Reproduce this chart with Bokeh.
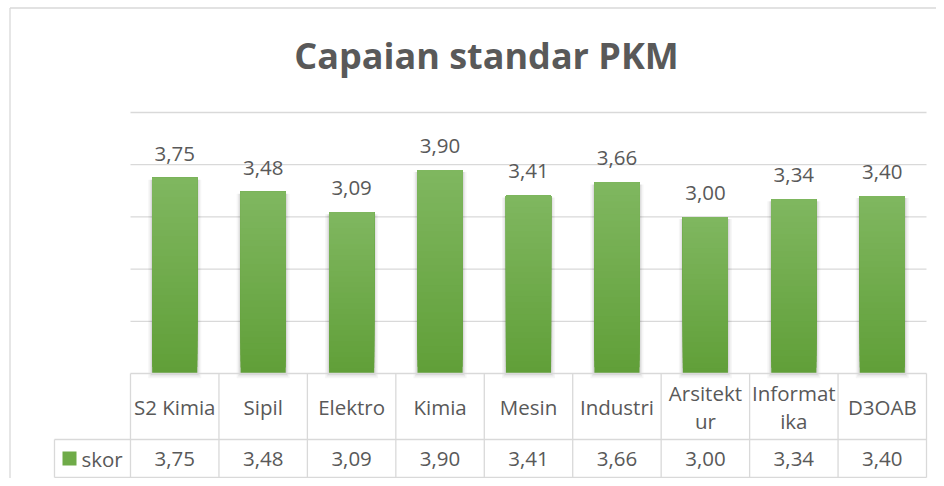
import numpy as np
from bokeh.plotting import figure
from bokeh.models import Range1d
from bokeh.core.properties import value
from bokeh.embed import file_html
from bokeh.resources import INLINE

# ---- data ----
title_text = "Capaian standar PKM"
categories = ["S2 Kimia", "Sipil", "Elektro", "Kimia", "Mesin", "Industri",
              "Arsitekt\nur", "Informat\nika", "D3OAB"]
skor = [3.75, 3.48, 3.09, 3.90, 3.41, 3.66, 3.00, 3.34, 3.40]
series_name = "skor"
grid_values = [1, 2, 3, 4, 5]

labels = [f"{v:.2f}".replace(".", ",") for v in skor]

# ---- layout (canvas pixels) ----
W, H = 936, 478
PL, PR = 130, 926          # plot area left/right
P_TOP, P_BASE = 112, 373   # pixel of value 5 and value 0
n = len(categories)
ymax = 5
ppx = (PR - PL) / n
ppy = (P_BASE - P_TOP) / ymax

def xu(px):
    return (px - PL) / ppx

def yu(py):
    return (P_BASE - py) / ppy

x_range = Range1d(xu(0), xu(W))
y_range = Range1d(yu(H), yu(0))

p = figure(width=W, height=H, x_range=x_range, y_range=y_range,
           output_backend="svg", toolbar_location=None,
           x_axis_location=None, y_axis_location=None,
           min_border=0, min_border_left=0, min_border_right=0,
           min_border_top=0, min_border_bottom=0)
p.grid.visible = False
p.background_fill_color = "white"
p.border_fill_color = "white"
p.outline_line_color = None

GRID = "#d9d9d9"
TXT = "#595959"
FONT = value("Open Sans")
FS = "20.5px"

# chart border (left and top visible)
p.segment(x0=[xu(9.5), xu(9.5)], x1=[xu(9.5), xu(W)],
          y0=[yu(7.5), yu(7.5)], y1=[yu(H), yu(7.5)],
          line_color=GRID, line_width=1.3)

# gridlines
p.segment(x0=[0] * len(grid_values), x1=[n] * len(grid_values),
          y0=grid_values, y1=grid_values, line_color=GRID, line_width=1.3)

xs = [i + 0.5 for i in range(n)]
bw = 0.51

# soft shadow
for extra, alpha in [(8, 0.035), (5, 0.05), (2.5, 0.07)]:
    p.vbar(x=xs, width=bw + extra / ppx, bottom=yu(P_BASE + extra * 0.6),
           top=[v - 2 / ppy for v in skor], fill_color="black",
           fill_alpha=alpha, line_color=None)

# gradient bars (each slice runs to the bar top, so no seams)
top_c = np.array([0x80, 0xb7, 0x60])
bot_c = np.array([0x60, 0x9f, 0x38])
N = 30
bx, bb, bt, bc = [], [], [], []
for k in range(N):
    f = (k + 0.5) / N
    c = bot_c + (top_c - bot_c) * f
    col = "#%02x%02x%02x" % tuple(int(round(t)) for t in c)
    for x, v in zip(xs, skor):
        bx.append(x)
        bb.append(v * k / N)
        bt.append(v)
        bc.append(col)
p.vbar(x=bx, width=bw, bottom=bb, top=bt, fill_color=bc, line_color=None)

# data labels
p.text(x=xs, y=skor, text=labels, text_align="center",
       text_baseline="middle", y_offset=-24, text_font=FONT,
       text_font_size=FS, text_color=TXT)

# title
p.text(x=[xu(486)], y=[yu(55)], text=[title_text], text_align="center",
       text_baseline="middle", text_font=FONT, text_font_size="36px",
       text_font_style="bold", text_color=TXT)

# data table
r1 = yu(439)
r2 = yu(477)
lx = xu(54)
p.segment(x0=[0, lx, lx], x1=[n, n, n], y0=[0, r1, r2], y1=[0, r1, r2],
          line_color=GRID, line_width=1.3)
vx = list(range(n + 1))
p.segment(x0=vx, x1=vx, y0=[0] * len(vx), y1=[r2] * len(vx),
          line_color=GRID, line_width=1.3)
p.segment(x0=[lx], x1=[lx], y0=[r1], y1=[r2], line_color=GRID, line_width=1.3)

p.text(x=xs, y=[r1 / 2] * n, text=categories, text_align="center",
       text_baseline="middle", text_font=FONT, text_font_size=FS,
       text_color=TXT, text_line_height=1.0)
p.text(x=xs, y=[(r1 + r2) / 2] * n, text=labels, text_align="center",
       text_baseline="middle", text_font=FONT, text_font_size=FS,
       text_color=TXT)

# legend key
p.scatter(x=[xu(69)], y=[(r1 + r2) / 2], marker="square", size=14,
          fill_color="#6fab48", line_color=None)
p.text(x=[xu(81)], y=[(r1 + r2) / 2], text=[series_name], text_align="left",
       text_baseline="middle", text_font=FONT, text_font_size=FS,
       text_color=TXT)

open("out.html", "w").write(file_html(p, INLINE))
